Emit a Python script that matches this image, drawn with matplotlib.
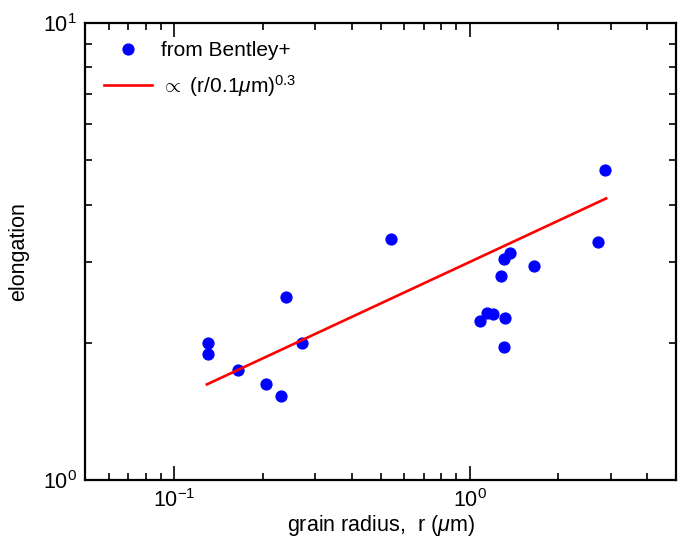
import matplotlib
matplotlib.use("Agg")
import matplotlib.pyplot as plt
from matplotlib.ticker import NullFormatter

# grain radius (micron) and elongation
radius = [0.130, 0.130, 0.165, 0.204, 0.230, 0.239, 0.270, 0.542,
          1.083, 1.144, 1.203, 1.323, 1.303, 1.276, 1.303, 1.373,
          1.646, 2.724, 2.876]
elong = [2.00, 1.89, 1.74, 1.62, 1.53, 2.52, 2.00, 3.36,
         2.23, 2.32, 2.31, 2.26, 1.96, 2.80, 3.04, 3.14,
         2.94, 3.32, 4.77]

# power-law guide line endpoints
line_r = [0.129, 2.9]
line_e = [1.62, 4.13]

plt.rcParams['font.family'] = ['Liberation Sans', 'DejaVu Sans']
plt.rcParams['mathtext.fontset'] = 'custom'
plt.rcParams['mathtext.rm'] = 'Liberation Sans'
plt.rcParams['mathtext.it'] = 'Liberation Sans:italic'

fig = plt.figure(figsize=(6.83, 5.38), dpi=100)
ax = fig.add_axes([0.1249, 0.1073, 0.8649, 0.8505])

ax.plot(radius, elong, 'o', color='blue', ms=7.8, label='from Bentley+')
ax.plot(line_r, line_e, '-', color='red', lw=1.9, label=r'$\propto$ (r/0.1$\mu$m)$^{0.3}$')

ax.set_xscale('log')
ax.set_yscale('log')
ax.set_xlim(0.05, 5)
ax.set_ylim(1, 10)
ax.yaxis.set_minor_formatter(NullFormatter())
ax.xaxis.set_minor_formatter(NullFormatter())

ax.tick_params(which='both', direction='in', top=True, right=True, labelsize=15.5)
ax.tick_params(which='major', length=10, width=1.2, pad=6)
ax.tick_params(which='minor', length=5, width=1.2)
for s in ax.spines.values():
    s.set_linewidth(1.6)

ax.set_xlabel(r'grain radius,  r ($\mu$m)', fontsize=15.5, labelpad=1)
ax.set_ylabel('elongation', fontsize=15.5, labelpad=10)

ax.legend(loc='upper left', frameon=False, fontsize=15, handlelength=2.3,
          handletextpad=0.45, borderaxespad=0.5, labelspacing=0.6, numpoints=1)

fig.savefig('out.png', dpi=100)
